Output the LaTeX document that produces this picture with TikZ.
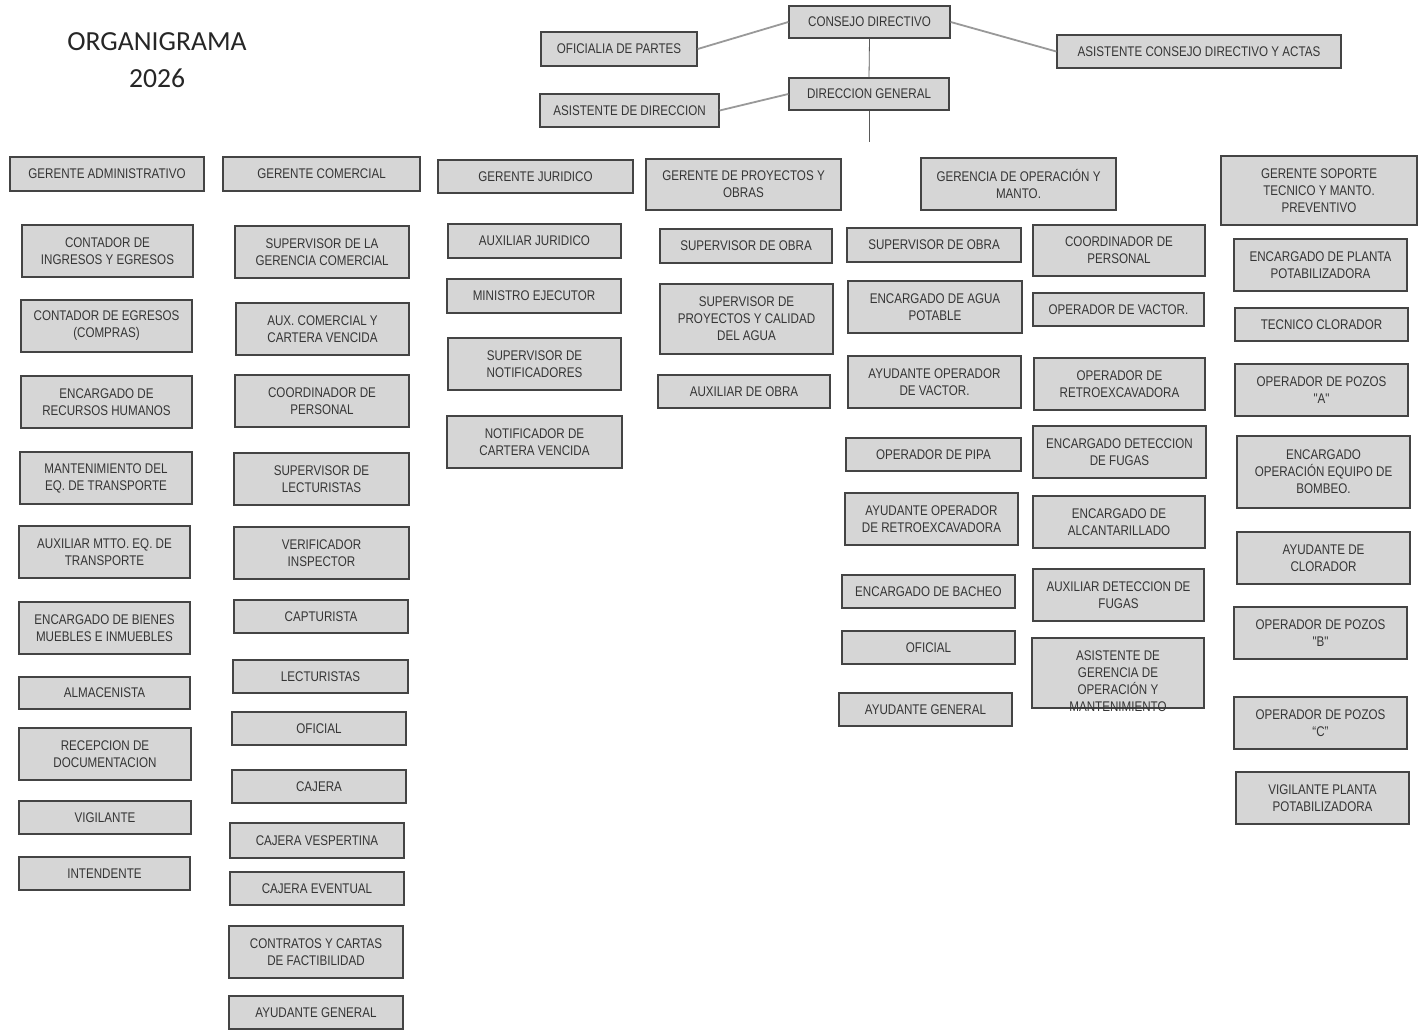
\documentclass[tikz,border=0pt]{standalone}
\usepackage{fontspec}
\newfontfamily\cajafont{Liberation Sans}[FakeStretch=0.83]
\newfontfamily\titulofont{Carlito}
\usepackage{tikz}
\definecolor{relleno}{HTML}{D6D6D6}
\definecolor{borde}{HTML}{444444}
\definecolor{letra}{HTML}{353535}
\tikzset{
  cargo/.style={draw=borde, fill=relleno, line width=1.3pt, align=center, inner sep=0pt,
    text=letra, font=\cajafont\fontsize{14}{17}\selectfont},
  enlace/.style={draw=black!40, line width=1.8pt},
  tronco/.style={draw=black!65, line width=0.8pt}
}

\begin{document}
\begin{tikzpicture}[x=1pt,y=-1pt]
\useasboundingbox (0,0) rectangle (1419,1031);
\fill[white] (0,0) rectangle (1419,1031);

\node[text=black!85, font=\titulofont\fontsize{27.6}{30}\selectfont] (titulo) at (157,42) {ORGANIGRAMA};
\node[text=black!85, font=\titulofont\fontsize{27.6}{30}\selectfont] (anio) at (157,78) {2026};

\node[cargo, minimum width=161, minimum height=32] (consejo) at (869.5,22) {CONSEJO DIRECTIVO};
\node[cargo, minimum width=156, minimum height=34] (oficialia) at (619,49) {OFICIALIA DE PARTES};
\node[cargo, minimum width=284, minimum height=33] (asisconsejo) at (1199,51.5) {ASISTENTE CONSEJO DIRECTIVO Y ACTAS};
\node[cargo, minimum width=160, minimum height=32] (direccion) at (869,94) {DIRECCION GENERAL};
\node[cargo, minimum width=179, minimum height=33] (asisdir) at (629.5,110.5) {ASISTENTE DE DIRECCION};
\coordinate (baja) at (869,142);

\draw[enlace] (oficialia.east) -- (consejo.west);
\draw[enlace] (consejo.east) -- (asisconsejo.west);
\draw[enlace] (asisdir.east) -- (direccion.west);
\draw[tronco] (consejo.south) -- (direccion.north);
\draw[tronco] (direccion.south) -- (baja);

\node[cargo, minimum width=194, minimum height=34] (gadm) at (107,174) {GERENTE ADMINISTRATIVO};
\node[cargo, minimum width=197, minimum height=34] (gcom) at (321.5,174) {GERENTE COMERCIAL};
\node[cargo, minimum width=195, minimum height=33] (gjur) at (535.5,176.5) {GERENTE JURIDICO};
\node[cargo, minimum width=195, minimum height=51] (gpro) at (743.5,184.5) {GERENTE DE PROYECTOS Y\\OBRAS};
\node[cargo, minimum width=195, minimum height=52] (gope) at (1018.5,184) {GERENCIA DE OPERACIÓN Y\\MANTO.};
\node[cargo, minimum width=196, minimum height=69] (gsop) at (1319,190.5) {GERENTE SOPORTE\\TECNICO Y MANTO.\\PREVENTIVO};

\node[cargo, minimum width=171, minimum height=52] (adm1) at (107.5,251) {CONTADOR DE\\INGRESOS Y EGRESOS};
\node[cargo, minimum width=171, minimum height=52] (adm2) at (106.5,326) {CONTADOR DE EGRESOS\\(COMPRAS)};
\node[cargo, minimum width=171, minimum height=52] (adm3) at (106.5,402) {ENCARGADO DE\\RECURSOS HUMANOS};
\node[cargo, minimum width=172, minimum height=52] (adm4) at (106,478) {MANTENIMIENTO DEL\\EQ. DE TRANSPORTE};
\node[cargo, minimum width=171, minimum height=52] (adm5) at (104.5,552) {AUXILIAR MTTO. EQ. DE\\TRANSPORTE};
\node[cargo, minimum width=171, minimum height=52] (adm6) at (104.5,628) {ENCARGADO DE BIENES\\MUEBLES E INMUEBLES};
\node[cargo, minimum width=171, minimum height=32] (adm7) at (104.5,693) {ALMACENISTA};
\node[cargo, minimum width=172, minimum height=52] (adm8) at (105,754) {RECEPCION DE\\DOCUMENTACION};
\node[cargo, minimum width=172, minimum height=33] (adm9) at (105,817.5) {VIGILANTE};
\node[cargo, minimum width=171, minimum height=33] (adm10) at (104.5,873.5) {INTENDENTE};

\node[cargo, minimum width=174, minimum height=52] (com1) at (322,252) {SUPERVISOR DE LA\\GERENCIA COMERCIAL};
\node[cargo, minimum width=173, minimum height=52] (com2) at (322.5,329) {AUX. COMERCIAL Y\\CARTERA VENCIDA};
\node[cargo, minimum width=174, minimum height=52] (com3) at (322,401) {COORDINADOR DE\\PERSONAL};
\node[cargo, minimum width=175, minimum height=52] (com4) at (321.5,479) {SUPERVISOR DE\\LECTURISTAS};
\node[cargo, minimum width=175, minimum height=52] (com5) at (321.5,553) {VERIFICADOR\\INSPECTOR};
\node[cargo, minimum width=174, minimum height=33] (com6) at (321,616.5) {CAPTURISTA};
\node[cargo, minimum width=175, minimum height=33] (com7) at (320.5,676.5) {LECTURISTAS};
\node[cargo, minimum width=174, minimum height=33] (com8) at (319,728.5) {OFICIAL};
\node[cargo, minimum width=174, minimum height=33] (com9) at (319,786.5) {CAJERA};
\node[cargo, minimum width=174, minimum height=35] (com10) at (317,840.5) {CAJERA VESPERTINA};
\node[cargo, minimum width=174, minimum height=33] (com11) at (317,888.5) {CAJERA EVENTUAL};
\node[cargo, minimum width=174, minimum height=52] (com12) at (316,952) {CONTRATOS Y CARTAS\\DE FACTIBILIDAD};
\node[cargo, minimum width=174, minimum height=33] (com13) at (316,1012.5) {AYUDANTE GENERAL};

\node[cargo, minimum width=173, minimum height=34] (jur1) at (534.5,241) {AUXILIAR JURIDICO};
\node[cargo, minimum width=174, minimum height=34] (jur2) at (534,296) {MINISTRO EJECUTOR};
\node[cargo, minimum width=173, minimum height=52] (jur3) at (534.5,364) {SUPERVISOR DE\\NOTIFICADORES};
\node[cargo, minimum width=175, minimum height=52] (jur4) at (534.5,442) {NOTIFICADOR DE\\CARTERA VENCIDA};

\node[cargo, minimum width=172, minimum height=34] (pro1) at (746,246) {SUPERVISOR DE OBRA};
\node[cargo, minimum width=173, minimum height=70] (pro2) at (746.5,319) {SUPERVISOR DE\\PROYECTOS Y CALIDAD\\DEL AGUA};
\node[cargo, minimum width=172, minimum height=33] (pro3) at (744,391.5) {AUXILIAR DE OBRA};

\node[cargo, minimum width=174, minimum height=34] (ope1) at (934,245) {SUPERVISOR DE OBRA};
\node[cargo, minimum width=174, minimum height=52] (ope2) at (935,307) {ENCARGADO DE AGUA\\POTABLE};
\node[cargo, minimum width=173, minimum height=52] (ope3) at (934.5,382) {AYUDANTE OPERADOR\\DE VACTOR.};
\node[cargo, minimum width=175, minimum height=33] (ope4) at (933.5,454.5) {OPERADOR DE PIPA};
\node[cargo, minimum width=173, minimum height=52] (ope5) at (931.5,519) {AYUDANTE OPERADOR\\DE RETROEXCAVADORA};
\node[cargo, minimum width=173, minimum height=33] (ope6) at (928.5,591.5) {ENCARGADO DE BACHEO};
\node[cargo, minimum width=173, minimum height=33] (ope7) at (928.5,647.5) {OFICIAL};
\node[cargo, minimum width=173, minimum height=33] (ope8) at (925.5,709.5) {AYUDANTE GENERAL};

\node[cargo, minimum width=172, minimum height=51] (man1) at (1119,250.5) {COORDINADOR DE\\PERSONAL};
\node[cargo, minimum width=171, minimum height=33] (man2) at (1118.5,309.5) {OPERADOR DE VACTOR.};
\node[cargo, minimum width=171, minimum height=52] (man3) at (1119.5,384) {OPERADOR DE\\RETROEXCAVADORA};
\node[cargo, minimum width=173, minimum height=52] (man4) at (1119.5,452) {ENCARGADO DETECCION\\DE FUGAS};
\node[cargo, minimum width=172, minimum height=52] (man5) at (1119,522) {ENCARGADO DE\\ALCANTARILLADO};
\node[cargo, minimum width=171, minimum height=52] (man6) at (1118.5,595) {AUXILIAR DETECCION DE\\FUGAS};
\node[cargo, minimum width=172, minimum height=70] (man7) at (1118,673) {};
\node[align=center, inner sep=0pt, text=letra, font=\cajafont\fontsize{14}{17}\selectfont] (man7txt) at ([yshift=-8pt]man7.center) {ASISTENTE DE\\GERENCIA DE\\OPERACIÓN Y\\MANTENIMIENTO};

\node[cargo, minimum width=173, minimum height=52] (sop1) at (1320.5,265) {ENCARGADO DE PLANTA\\POTABILIZADORA};
\node[cargo, minimum width=173, minimum height=33] (sop2) at (1321.5,324.5) {TECNICO CLORADOR};
\node[cargo, minimum width=173, minimum height=52] (sop3) at (1321.5,390) {OPERADOR DE POZOS\\"A"};
\node[cargo, minimum width=173, minimum height=72] (sop4) at (1323.5,472) {ENCARGADO\\OPERACIÓN EQUIPO DE\\BOMBEO.};
\node[cargo, minimum width=173, minimum height=52] (sop5) at (1323.5,558) {AYUDANTE DE\\CLORADOR};
\node[cargo, minimum width=173, minimum height=52] (sop6) at (1320.5,633) {OPERADOR DE POZOS\\"B"};
\node[cargo, minimum width=173, minimum height=52] (sop7) at (1320.5,723) {OPERADOR DE POZOS\\“C”};
\node[cargo, minimum width=173, minimum height=52] (sop8) at (1322.5,798) {VIGILANTE PLANTA\\POTABILIZADORA};
\end{tikzpicture}
\end{document}
